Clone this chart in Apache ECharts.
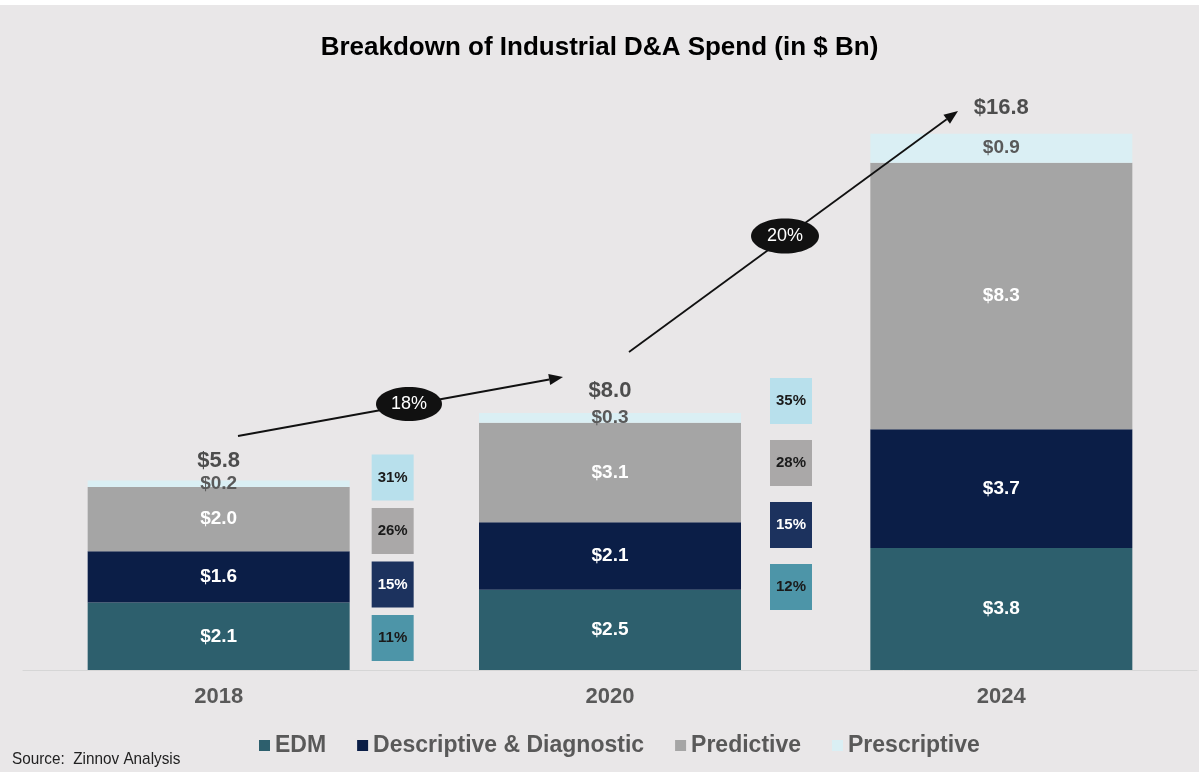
<!DOCTYPE html>
<html>
<head>
<meta charset="utf-8">
<title>Breakdown of Industrial D&amp;A Spend</title>
<script src="https://cdn.jsdelivr.net/npm/echarts@6/dist/echarts.min.js"></script>
<style>
  html, body { margin: 0; padding: 0; background: #e9e7e8; }
  #chart { width: 1199px; height: 772px; }
</style>
</head>
<body>
<div id="chart"></div>
<script>
// chart data
const years = ['2018', '2020', '2024'];
const edm = [2.1, 2.5, 3.8];
const descriptive = [1.6, 2.1, 3.7];
const predictive = [2.0, 3.1, 8.3];
const prescriptive = [0.2, 0.3, 0.9];
const totals = [5.8, 8.0, 16.8];
// segment CAGR boxes (EDM, Descriptive, Predictive, Prescriptive)
const cagr2018 = [11, 15, 26, 31];
const cagr2020 = [12, 15, 28, 35];
const overallCagr = ['18%', '20%'];

const FONT = '"Liberation Sans", Arial, sans-serif';
const colors = ['#2d5f6d', '#0b1e47', '#a5a5a5', '#daeff4'];
const boxColors = ['#4d95a8', '#1c325e', '#aaa8a8', '#b8e0ec'];
const boxText = ['#1a1a1a', '#ffffff', '#1a1a1a', '#1a1a1a'];
// box column placement relative to the category centre (px)
const boxLayout = [
    { dx: 153, bottom: 9, step: 53.5 },
    { dx: 160, bottom: 60, step: 62 },
];

const chart = echarts.init(document.getElementById('chart'));

const segLabel = (color) => ({
    show: true,
    position: 'inside',
    formatter: (p) => '$' + p.value.toFixed(1),
    color: color,
    fontFamily: FONT,
    fontWeight: 'bold',
    fontSize: 19,
});

const makeBar = (name, data, i) => ({
    name: name,
    type: 'bar',
    stack: 'total',
    barWidth: 262,
    data: data,
    itemStyle: { color: colors[i] },
    label: segLabel(i === 3 ? '#595959' : '#ffffff'),
    emphasis: { disabled: true },
});

// arrow helper for the CAGR arrows
const arrow = (x1, y1, x2, y2) => {
    const a = Math.atan2(y2 - y1, x2 - x1);
    const len = 14, hw = 5.5;
    const bx = x2 - len * Math.cos(a), by = y2 - len * Math.sin(a);
    return [
        { type: 'line', z: 100, shape: { x1, y1, x2: bx, y2: by }, style: { stroke: '#111', lineWidth: 1.8 } },
        {
            type: 'polygon',
            z: 100,
            shape: {
                points: [
                    [x2, y2],
                    [bx + hw * Math.sin(a), by - hw * Math.cos(a)],
                    [bx - hw * Math.sin(a), by + hw * Math.cos(a)],
                ],
            },
            style: { fill: '#111' },
        },
    ];
};

const bubble = (cx, cy, rx, ry, txt) => [
    { type: 'ellipse', shape: { cx, cy, rx, ry }, style: { fill: '#111' }, z: 110 },
    {
        type: 'text', x: cx, y: cy, z: 120,
        style: { text: txt, fill: '#fff', font: '18px ' + FONT, align: 'center', verticalAlign: 'middle' },
    },
];

const option = {
    backgroundColor: '#e9e7e8',
    animation: false,
    title: {
        text: 'Breakdown of Industrial D&A Spend (in $ Bn)',
        left: 'center',
        top: 30,
        textStyle: { fontFamily: FONT, fontSize: 26, fontWeight: 'bold', color: '#000' },
    },
    legend: {
        data: ['EDM', 'Descriptive & Diagnostic', 'Predictive', 'Prescriptive'],
        top: 729,
        left: 254,
        icon: 'rect',
        itemWidth: 11,
        itemHeight: 11,
        itemGap: 31,
        textStyle: { fontFamily: FONT, fontSize: 23, fontWeight: 'bold', color: '#595959' },
    },
    grid: { left: 23, right: 2, top: 92, bottom: 102 },
    xAxis: {
        type: 'category',
        data: years,
        axisLine: { lineStyle: { color: '#d6d6d6', width: 1 } },
        axisTick: { show: false },
        axisLabel: { margin: 16, fontFamily: FONT, fontSize: 22, fontWeight: 'bold', color: '#595959' },
    },
    yAxis: { type: 'value', min: 0, max: 18, show: false, splitLine: { show: false } },
    series: [
        makeBar('EDM', edm, 0),
        makeBar('Descriptive & Diagnostic', descriptive, 1),
        makeBar('Predictive', predictive, 2),
        makeBar('Prescriptive', prescriptive, 3),
        {
            name: 'Total',
            type: 'scatter',
            data: totals,
            symbolSize: 1,
            itemStyle: { color: 'rgba(0,0,0,0)', opacity: 1 },
            label: {
                show: true,
                position: 'top',
                distance: 11,
                formatter: (p) => '$' + p.value.toFixed(1),
                fontFamily: FONT,
                fontSize: 22,
                fontWeight: 'bold',
                color: '#4d4d4d',
            },
            emphasis: { disabled: true },
            z: 5,
        },
        {
            name: 'CAGR',
            type: 'custom',
            data: [[0].concat(cagr2018), [1].concat(cagr2020)],
            renderItem: (params, api) => {
                const idx = api.value(0);
                const base = api.coord([idx, 0]);
                const L = boxLayout[idx];
                const w = 42, h = 46;
                const children = [];
                for (let k = 0; k < 4; k++) {
                    const x = base[0] + L.dx;
                    const y = base[1] - L.bottom - k * L.step - h;
                    children.push({
                        type: 'rect',
                        shape: { x, y, width: w, height: h },
                        style: { fill: boxColors[k] },
                    });
                    children.push({
                        type: 'text',
                        x: x + w / 2,
                        y: y + h / 2,
                        style: {
                            text: api.value(k + 1) + '%',
                            fill: boxText[k],
                            font: 'bold 15px ' + FONT,
                            align: 'center',
                            verticalAlign: 'middle',
                        },
                    });
                }
                return { type: 'group', children };
            },
            z: 4,
        },
    ],
    graphic: [
        { type: 'rect', shape: { x: 0, y: 0, width: 1199, height: 5 }, style: { fill: '#ffffff' } },
        ...arrow(238, 436, 563, 377),
        ...bubble(409, 404, 33, 17, overallCagr[0]),
        ...arrow(629, 352, 958, 111),
        ...bubble(785, 236, 34, 17.5, overallCagr[1]),
        {
            type: 'text', x: 12, y: 751, scaleX: 0.9,
            style: { text: 'Source:  Zinnov Analysis', fill: '#222', font: '17px ' + FONT },
        },
    ],
};

chart.setOption(option);
</script>
</body>
</html>
